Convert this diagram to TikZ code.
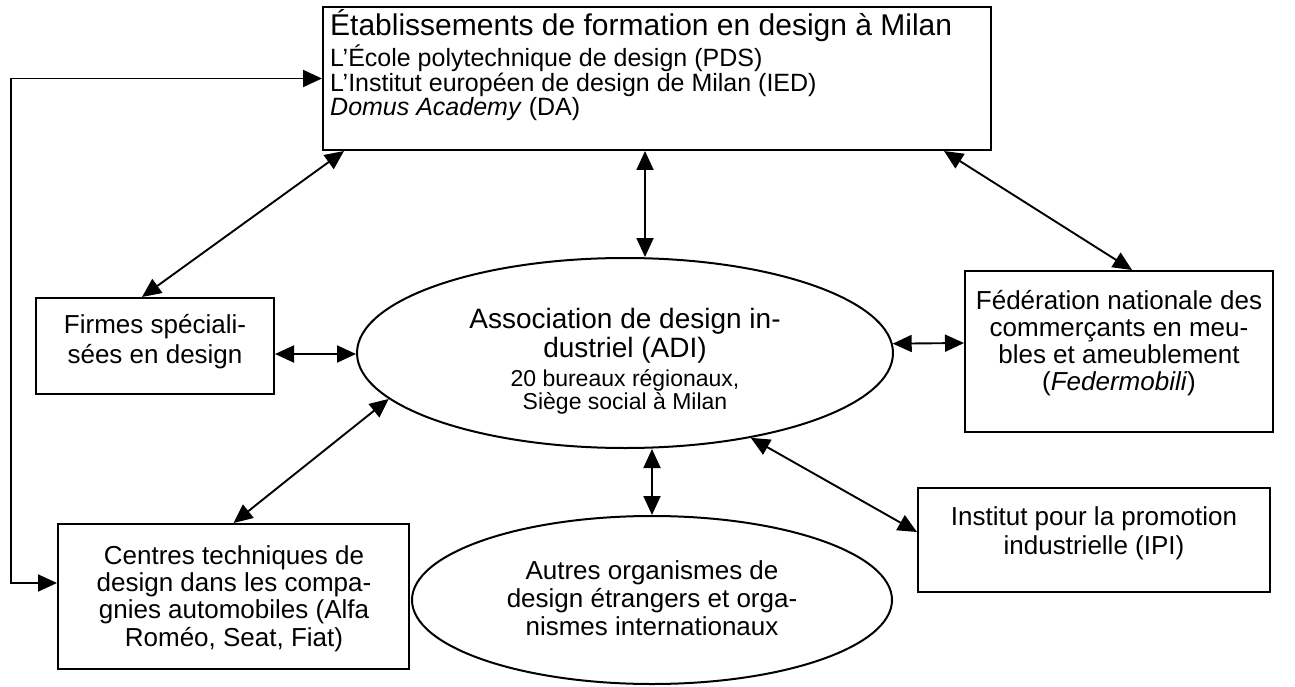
\documentclass[tikz,border=0pt]{standalone}
\usepackage{fontspec}
\setmainfont{Liberation Sans}
\usetikzlibrary{arrows.meta,calc,shapes.geometric}
\begin{document}
\begin{tikzpicture}[x=1pt,y=-1pt,
  box/.style={draw,line width=2pt,inner sep=0pt,rectangle},
  oval/.style={draw,ellipse,line width=2pt,inner sep=0pt},
  arr/.style={line width=1.9pt,{Triangle[length=19pt,width=17pt]}-{Triangle[length=19pt,width=17pt]}},
  ln/.style={inner sep=0pt,anchor=base,font=\fontsize{26}{27}\selectfont},
  lnl/.style={inner sep=0pt,anchor=base west,font=\fontsize{25}{26}\selectfont},
  big/.style={ln,font=\fontsize{28}{29}\selectfont},
  small/.style={ln,font=\fontsize{23}{24}\selectfont}]
\useasboundingbox (0,0) rectangle (1295,687);

% boxes and ellipses
\node[box,minimum width=668pt,minimum height=143pt] (top) at (657,78.5) {};
\node[box,minimum width=238pt,minimum height=96pt] (firmes) at (155,346) {};
\node[box,minimum width=308pt,minimum height=161pt] (fed) at (1119,351.5) {};
\node[box,minimum width=351pt,minimum height=145pt] (centres) at (233.5,596.5) {};
\node[box,minimum width=352pt,minimum height=104pt] (ipi) at (1094,540) {};
\node[oval,minimum width=536pt,minimum height=190pt] (adi) at (625,353) {};
\node[oval,minimum width=480pt,minimum height=168pt] (autres) at (652,600) {};

% texts
\node[lnl,font=\fontsize{30}{32}\selectfont] (t0) at (330,36) {Établissements de formation en design à Milan};
\node[lnl] (t1) at (330,67) {L’École polytechnique de design (PDS)};
\node[lnl] (t2) at (330,92) {L’Institut européen de design de Milan (IED)};
\node[lnl] (t3) at (330,116) {\textit{Domus Academy} (DA)};

\node[ln] (f1) at (155,333) {Firmes spéciali-};
\node[ln] (f2) at (155,363) {sées en design};

\node[big] (a1) at (625,328) {Association de design in-};
\node[big] (a2) at (625,357) {dustriel (ADI)};
\node[small] (a3) at (625,386) {20 bureaux régionaux,};
\node[small] (a4) at (625,409) {Siège social à Milan};

\node[ln] (e1) at (1119,309) {Fédération nationale des};
\node[ln] (e2) at (1119,336) {commerçants en meu-};
\node[ln] (e3) at (1119,363) {bles et ameublement};
\node[ln] (e4) at (1119,390) {(\textit{Federmobili})};

\node[ln] (c1) at (234,564) {Centres techniques de};
\node[ln] (c2) at (234,591) {design dans les compa-};
\node[ln] (c3) at (234,618) {gnies automobiles (Alfa};
\node[ln] (c4) at (234,646) {Roméo, Seat, Fiat)};

\node[ln] (o1) at (652,579) {Autres organismes de};
\node[ln] (o2) at (652,607) {design étrangers et orga-};
\node[ln] (o3) at (652,635) {nismes internationaux};

\node[ln] (i1) at (1094,525) {Institut pour la promotion};
\node[ln] (i2) at (1094,554) {industrielle (IPI)};

% connectors
\draw[arr] (top.west) -- ++(-311,0) |- ([yshift=13.5pt]centres.west);
\draw[arr] ([xshift=22pt]top.south west) -- ([xshift=107pt]firmes.north west);
\draw[arr] ([xshift=-12pt]top.south) -- ([xshift=-12pt]top.south |- adi.north);
\draw[arr] ([xshift=-48pt]top.south east) -- ([xshift=168pt]fed.north west);
\draw[arr] ([yshift=-8pt]firmes.east) -- ([yshift=-8pt]firmes.east -| adi.west);
\draw[arr] (adi.2.15) -- ([yshift=8.5pt]fed.west);
\draw[arr] (adi.191.7) -- (centres.north);
\draw[arr] (autres.north |- adi.south) -- (autres.north);
\draw[arr] (adi.-34) -- ([yshift=8pt]ipi.west);
\end{tikzpicture}
\end{document}
